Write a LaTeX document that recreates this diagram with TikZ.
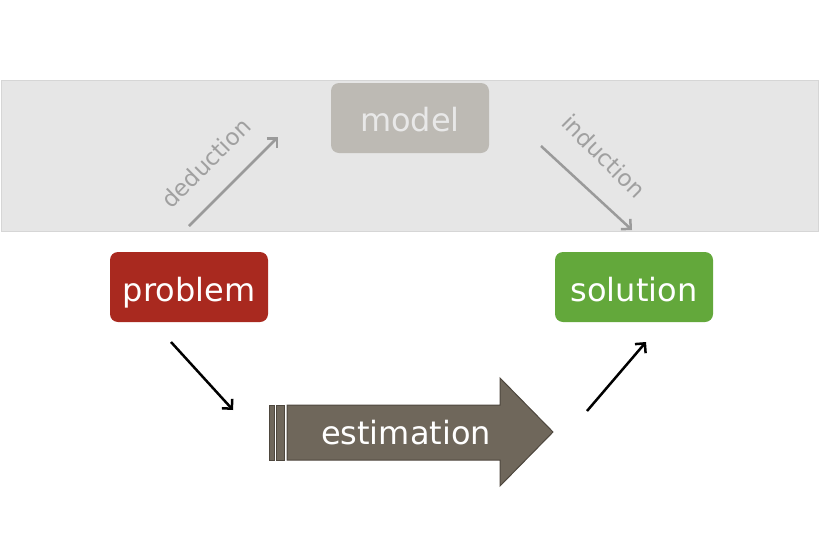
\documentclass[tikz,border=0pt]{standalone}
\usepackage{fontspec}
\setmainfont{DejaVu Sans}
\usetikzlibrary{arrows.meta}
\definecolor{bandfill}{HTML}{E6E6E6}
\definecolor{bandline}{HTML}{D6D6D6}
\definecolor{modelfill}{HTML}{BDBAB4}
\definecolor{modeltext}{HTML}{E8E8E8}
\definecolor{probfill}{HTML}{A9291F}
\definecolor{solfill}{HTML}{63A83B}
\definecolor{estfill}{HTML}{6F675B}
\definecolor{estline}{HTML}{4E473E}
\definecolor{grayarrow}{HTML}{9A9A9A}
\definecolor{graylabel}{HTML}{A0A0A0}
\tikzset{
  box/.style={rounded corners=8pt, minimum width=158pt, minimum height=70pt, inner sep=0pt,
    text height=28pt, text depth=0pt,
    font=\fontsize{32}{36}\selectfont, text=white},
  blackarrow/.style={draw=black, line width=2.5pt, -{Straight Barb[length=7pt,width=14pt,line width=2.5pt]}},
  grayarr/.style={draw=grayarrow, line width=2.5pt, -{Straight Barb[length=7pt,width=14pt,line width=2.5pt]}},
  sidelabel/.style={text=graylabel, font=\fontsize{23}{26}\selectfont, inner sep=0pt},
}
\begin{document}
\begin{tikzpicture}[x=1pt,y=-1pt]
\useasboundingbox (0,0) rectangle (820,560);
% band
\draw[fill=bandfill, draw=bandline, line width=0.8pt] (1,80) rectangle (818,231);
% nodes
\node[box, fill=modelfill, text=modeltext, text height=26pt] (model) at (410,118) {model};
\node[box, fill=probfill] (problem) at (189,287) {problem};
\node[box, fill=solfill] (solution) at (634,287) {solution};
% estimation arrow
\draw[fill=estfill, draw=estline, line width=1pt]
  (287,405) -- (500,405) -- (500,378) -- (553,432) -- (500,486) -- (500,460) -- (287,460) -- cycle;
\draw[fill=estfill, draw=estline, line width=1pt] (269,405) rectangle (274,460);
\draw[fill=estfill, draw=estline, line width=1pt] (276,405) rectangle (284,460);
\node[text=white, font=\fontsize{32}{36}\selectfont, inner sep=0pt] (est) at (406,433) {estimation};
% coordinates for free arrows
\coordinate (d1) at (189,226);
\coordinate (d2) at (278,137);
\coordinate (i1) at (541,146);
\coordinate (i2) at (632,230);
\coordinate (p1) at (171,342);
\coordinate (p2) at (233,410);
\coordinate (s1) at (587,411);
\coordinate (s2) at (646,342);
\draw[grayarr] (d1) -- (d2);
\draw[grayarr] (i1) -- (i2);
\draw[blackarrow] (p1) -- (p2);
\draw[blackarrow] (s1) -- (s2);
\node[sidelabel, rotate=45] (ded) at (206,163) {deduction};
\node[sidelabel, rotate=-45] (ind) at (604,156) {induction};
\end{tikzpicture}
\end{document}
